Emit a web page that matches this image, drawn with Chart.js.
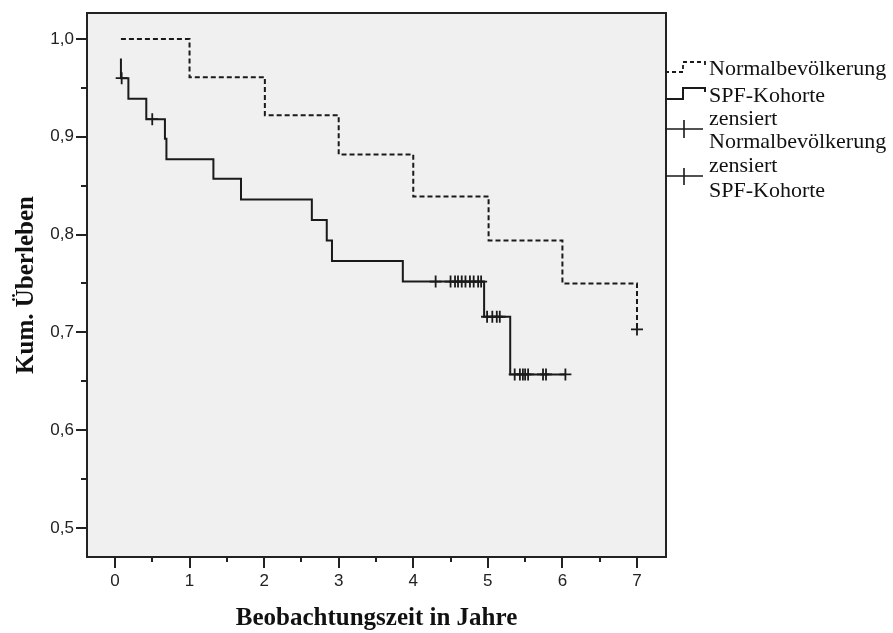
<!DOCTYPE html>
<html>
<head>
<meta charset="utf-8">
<script src="https://cdn.jsdelivr.net/npm/chart.js@4/dist/chart.umd.min.js"></script>
<style>
html,body{margin:0;padding:0;background:#fff;}
#wrap{width:893px;height:633px;}
</style>
</head>
<body>
<div id="wrap"><canvas id="c" width="893" height="633"></canvas></div>
<script>
// ---- data ----
const normTimes = [0.08, 1.00, 2.01, 3.00, 4.00, 5.01, 6.00, 7.00];
const normSurv  = [1.000, 0.961, 0.922, 0.882, 0.839, 0.794, 0.750, 0.703];

const spfTimes = [0.08, 0.08, 0.18, 0.42, 0.67, 0.69, 1.32, 1.69, 2.64, 2.84, 2.91, 3.86, 4.95, 5.30, 6.04];
const spfSurv  = [0.980, 0.960, 0.939, 0.918, 0.898, 0.877, 0.857, 0.836, 0.815, 0.794, 0.773, 0.752, 0.716, 0.657, 0.657];

const normCensTimes = [7.00];
const normCensSurv  = [0.703];

const spfCensTimes = [0.09, 0.50, 4.30, 4.50, 4.56, 4.60, 4.65, 4.70, 4.76, 4.81, 4.87, 4.91,
                      4.99, 5.06, 5.12, 5.16, 5.36, 5.43, 5.47, 5.50, 5.54, 5.74, 5.78, 6.04];
const spfCensSurv  = [0.960, 0.918, 0.752, 0.752, 0.752, 0.752, 0.752, 0.752, 0.752, 0.752, 0.752, 0.752,
                      0.716, 0.716, 0.716, 0.716, 0.657, 0.657, 0.657, 0.657, 0.657, 0.657, 0.657, 0.657];

const xTickValues = [0, 1, 2, 3, 4, 5, 6, 7];
const xMinorTicks = [0.5, 1.5, 2.5, 3.5, 4.5, 5.5, 6.5];
const yTickValues = [0.5, 0.6, 0.7, 0.8, 0.9, 1.0];
const yMinorTicks = [0.55, 0.65, 0.75, 0.85, 0.95];

const xTitle = "Beobachtungszeit in Jahre";
const yTitle = "Kum. Überleben";
const legendLabels = [["Normalbevölkerung"], ["SPF-Kohorte"], ["zensiert", "Normalbevölkerung"], ["zensiert", "SPF-Kohorte"]];

const pts = (xs, ys) => xs.map((x, i) => ({x: x, y: ys[i]}));
const INK = '#1a1a1a';

const framePlugin = {
  id: 'frame',
  beforeDraw(chart) {
    const {ctx, chartArea: a} = chart;
    ctx.save();
    ctx.fillStyle = '#f0f0f0';
    ctx.fillRect(a.left, a.top, a.right - a.left, a.bottom - a.top);
    ctx.restore();
  },
  afterDraw(chart) {
    const {ctx, chartArea: a, scales} = chart;
    ctx.save();
    ctx.strokeStyle = '#222';
    ctx.lineWidth = 2;
    ctx.strokeRect(a.left, a.top, a.right - a.left, a.bottom - a.top);
    // minor ticks
    ctx.lineWidth = 2;
    ctx.beginPath();
    xMinorTicks.forEach(v => {
      const px = Math.round(scales.x.getPixelForValue(v));
      ctx.moveTo(px, a.bottom); ctx.lineTo(px, a.bottom + 5);
    });
    yMinorTicks.forEach(v => {
      const py = Math.round(scales.y.getPixelForValue(v));
      ctx.moveTo(a.left, py); ctx.lineTo(a.left - 6, py);
    });
    ctx.stroke();

    // legend
    const lx0 = 665, lx1 = 705;
    ctx.strokeStyle = INK;
    ctx.fillStyle = '#111';
    ctx.font = '22px "Liberation Serif", serif';
    ctx.textBaseline = 'alphabetic';
    ctx.textAlign = 'left';
    // item 1: dashed step
    ctx.lineWidth = 1.8;
    ctx.setLineDash([4, 3]);
    ctx.beginPath();
    ctx.moveTo(lx0, 72); ctx.lineTo(683, 72); ctx.lineTo(683, 62); ctx.lineTo(lx1, 62); ctx.lineTo(lx1, 67);
    ctx.stroke();
    ctx.setLineDash([]);
    ctx.fillText(legendLabels[0][0], 709, 75);
    // item 2: solid step
    ctx.lineWidth = 2;
    ctx.beginPath();
    ctx.moveTo(lx0, 99); ctx.lineTo(683, 99); ctx.lineTo(683, 88); ctx.lineTo(lx1, 88); ctx.lineTo(lx1, 92);
    ctx.stroke();
    ctx.fillText(legendLabels[1][0], 709, 102);
    // item 3: cross
    ctx.lineWidth = 1.6;
    ctx.beginPath();
    ctx.moveTo(lx0, 129); ctx.lineTo(703, 129); ctx.moveTo(684, 120); ctx.lineTo(684, 138);
    ctx.stroke();
    ctx.fillText(legendLabels[2][0], 709, 125);
    ctx.fillText(legendLabels[2][1], 709, 148);
    // item 4: cross
    ctx.beginPath();
    ctx.moveTo(lx0, 176); ctx.lineTo(703, 176); ctx.moveTo(684, 168); ctx.lineTo(684, 185);
    ctx.stroke();
    ctx.fillText(legendLabels[3][0], 709, 172);
    ctx.fillText(legendLabels[3][1], 709, 197);
    ctx.restore();
  }
};

const tickFont = {family: '"Liberation Sans", Arial, sans-serif', size: 17};
const titleFont = {family: '"Liberation Serif", serif', size: 25, weight: 'bold', lineHeight: 1};

new Chart(document.getElementById('c'), {
  type: 'scatter',
  data: {
    datasets: [
      {
        label: legendLabels[0][0],
        data: pts(normTimes, normSurv),
        showLine: true, stepped: 'before',
        borderColor: INK, borderWidth: 2, borderDash: [5, 3],
        pointRadius: 0, fill: false
      },
      {
        label: legendLabels[1][0],
        data: pts(spfTimes, spfSurv),
        showLine: true, stepped: 'before',
        borderColor: INK, borderWidth: 2,
        pointRadius: 0, fill: false
      },
      {
        label: legendLabels[2].join(' '),
        data: pts(normCensTimes, normCensSurv),
        showLine: false, pointStyle: 'cross', pointRadius: 6,
        borderColor: INK, pointBorderWidth: 1.8, backgroundColor: INK
      },
      {
        label: legendLabels[3].join(' '),
        data: pts(spfCensTimes, spfCensSurv),
        showLine: false, pointStyle: 'cross', pointRadius: 6,
        borderColor: INK, pointBorderWidth: 1.8, backgroundColor: INK
      }
    ]
  },
  options: {
    responsive: false,
    animation: false,
    layout: {padding: {top: 13, right: 227, left: 0, bottom: 0}},
    plugins: {legend: {display: false}, tooltip: {enabled: false}},
    scales: {
      x: {
        type: 'linear', min: -0.375, max: 7.389,
        afterBuildTicks: s => { s.ticks = xTickValues.map(v => ({value: v})); },
        afterFit: s => { s.height = 76; },
        grid: {display: true, drawOnChartArea: false, drawTicks: true, tickLength: 11, color: '#222', lineWidth: 2},
        border: {display: false},
        ticks: {font: tickFont, color: '#222', padding: 3, maxRotation: 0, callback: v => String(v)},
        title: {display: true, text: xTitle, font: titleFont, color: '#111', padding: {top: 0, bottom: 1.5}}
      },
      y: {
        type: 'linear', min: 0.4703, max: 1.0266,
        afterBuildTicks: s => { s.ticks = yTickValues.map(v => ({value: v})); },
        afterFit: s => { s.width = 87; },
        grid: {display: true, drawOnChartArea: false, drawTicks: true, tickLength: 11, color: '#222', lineWidth: 2},
        border: {display: false},
        ticks: {font: tickFont, color: '#222', padding: 2, callback: v => v.toFixed(1).replace('.', ',')},
        title: {display: true, text: yTitle, font: titleFont, color: '#111', padding: {top: 14, bottom: 0}}
      }
    }
  },
  plugins: [framePlugin]
});
</script>
</body>
</html>
